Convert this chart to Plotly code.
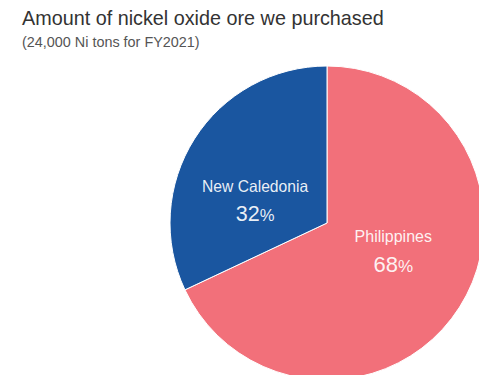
import plotly.graph_objects as go

labels = ["Philippines", "New Caledonia"]
values = [68, 32]
colors = ["#F2707A", "#1A56A0"]
title = "Amount of nickel oxide ore we purchased"
subtitle = "(24,000 Ni tons for FY2021)"

W, H = 500, 392
FONT = "Liberation Sans, Arial, sans-serif"

base_tpl = ("<span style='font-size:16px'>%{label}</span><br>"
            "<span style='font-size:22px'>%{value}</span><span style='font-size:17px'>%</span>")
blank = "<span style='font-size:4px'> </span>"
templates = [base_tpl + "<br>" + blank, blank + "<br>" + blank + "<br>" + base_tpl]

fig = go.Figure(go.Pie(
    labels=labels,
    values=values,
    sort=False,
    direction="clockwise",
    rotation=0,
    marker=dict(colors=colors, line=dict(color="white", width=1)),
    textposition="inside",
    insidetextorientation="horizontal",
    texttemplate=templates,
    textfont=dict(family=FONT, size=23, color="rgba(255,255,255,0.92)"),
    hoverinfo="label+percent",
    showlegend=False,
    domain=dict(x=[170 / W, 484 / W], y=[(H - 381) / H, (H - 65) / H]),
))

fig.update_layout(
    width=W, height=H,
    margin=dict(l=0, r=0, t=0, b=0),
    paper_bgcolor="white",
    plot_bgcolor="white",
    annotations=[
        dict(text=title, x=20 / W, y=1 - 5 / H, xref="paper", yref="paper",
             xanchor="left", yanchor="top", showarrow=False,
             font=dict(family=FONT, size=19.8, color="#333333")),
        dict(text=subtitle, x=20 / W, y=1 - 32 / H, xref="paper", yref="paper",
             xanchor="left", yanchor="top", showarrow=False,
             font=dict(family=FONT, size=14.4, color="#555555")),
    ],
)

fig.write_html(
    "out.html",
    post_script="document.documentElement.style.overflow='hidden';"
                "document.body.style.overflow='hidden';document.body.style.margin='0';",
)
